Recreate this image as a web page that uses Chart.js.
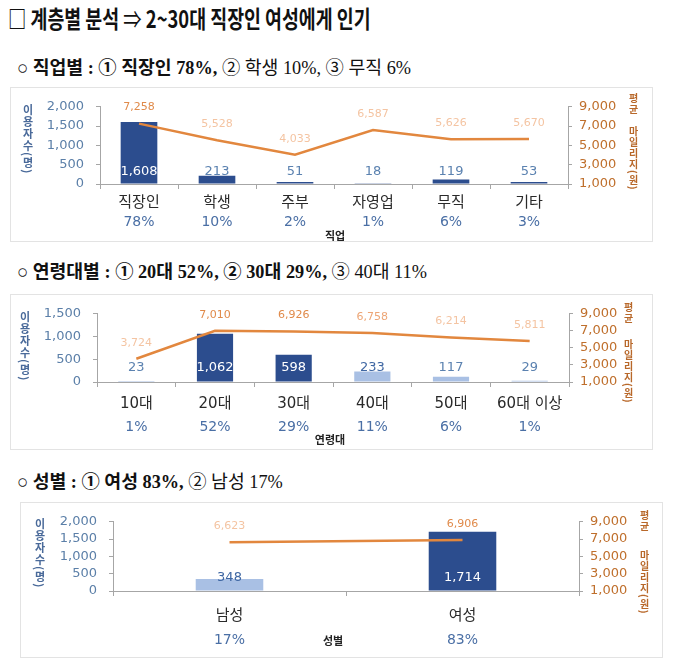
<!DOCTYPE html>
<html><head><meta charset="utf-8">
<script src="https://cdn.jsdelivr.net/npm/chart.js@4.4.1/dist/chart.umd.min.js"></script>
<style>
body{margin:0;background:#fff;width:680px;height:663px;position:relative;overflow:hidden;font-family:"Noto Sans CJK KR",sans-serif;}
.abs{position:absolute;}
.title{left:8px;top:1px;font-size:24px;font-weight:bold;transform:scaleX(0.765);transform-origin:left top;white-space:nowrap;color:#111;line-height:34px;}
.title .ar{font-weight:normal;}
.sub{left:17px;font-family:"Liberation Serif","Noto Sans CJK KR",serif;font-size:18.3px;line-height:24px;white-space:nowrap;color:#111;}
.sub b{font-weight:bold;}
.box{border:1px solid #e3e3e3;box-sizing:border-box;}
.vt{writing-mode:vertical-rl;font-weight:bold;line-height:1;white-space:nowrap;}
.lt{font-size:11px;color:#4a6a9a;letter-spacing:1px;}
.rt{font-size:10px;color:#b8682a;letter-spacing:1px;}
.xt{font-size:11px;font-weight:bold;color:#222;transform:translateX(-50%);white-space:nowrap;}
canvas{position:absolute;}
</style>
</head>
<body>
<div class="abs title">□ 계층별 분석 <span class="ar">⇒</span> 2~30대 직장인 여성에게 인기</div>

<div class="abs sub" style="top:56px;">○ <b>직업별 : ① 직장인 78%,</b> ② 학생 10%, ③ 무직 6%</div>
<div class="abs box" style="left:10px;top:87px;width:643px;height:155px;"></div>
<canvas id="c1" width="643" height="155" style="left:10px;top:87px;"></canvas>
<div class="abs vt lt" style="left:22px;top:104px;">이용자수(명)</div>
<div class="abs vt rt" style="left:628px;top:93px;">평균</div>
<div class="abs vt rt" style="left:628px;top:126px;">마일리지(원)</div>
<div class="abs xt" style="left:335px;top:227px;">직업</div>

<div class="abs sub" style="top:260px;">○ <b>연령대별 : ① 20대 52%, ② 30대 29%,</b> ③ 40대 11%</div>
<div class="abs box" style="left:10px;top:294px;width:643px;height:156px;"></div>
<canvas id="c2" width="643" height="156" style="left:10px;top:294px;"></canvas>
<div class="abs vt lt" style="left:19px;top:311px;">이용자수(명)</div>
<div class="abs vt rt" style="left:623px;top:302px;">평균</div>
<div class="abs vt rt" style="left:623px;top:339px;">마일리지(원)</div>
<div class="abs xt" style="left:330px;top:431px;">연령대</div>

<div class="abs sub" style="top:470px;">○ <b>성별 : ① 여성 83%,</b> ② 남성 17%</div>
<div class="abs box" style="left:20px;top:502px;width:643px;height:156px;"></div>
<canvas id="c3" width="643" height="156" style="left:20px;top:502px;"></canvas>
<div class="abs vt lt" style="left:34px;top:518px;">이용자수(명)</div>
<div class="abs vt rt" style="left:639px;top:510px;">평균</div>
<div class="abs vt rt" style="left:639px;top:550px;">마일리지(원)</div>
<div class="abs xt" style="left:333px;top:632px;">성별</div>

<script>
// ---- data ----
const jobCats = ['직장인','학생','주부','자영업','무직','기타'];
const jobPct = ['78%','10%','2%','1%','6%','3%'];
const jobUsers = [1608,213,51,18,119,53];
const jobMileage = [7258,5528,4033,6587,5626,5670];

const ageCats = ['10대','20대','30대','40대','50대','60대 이상'];
const agePct = ['1%','52%','29%','11%','6%','1%'];
const ageUsers = [23,1062,598,233,117,29];
const ageMileage = [3724,7010,6926,6758,6214,5811];

const sexCats = ['남성','여성'];
const sexPct = ['17%','83%'];
const sexUsers = [348,1714];
const sexMileage = [6623,6906];

const usersMax1 = 2000, usersMax2 = 1500, usersMax3 = 2000, usersStep = 500;
const mileageMin = 1000, mileageMax = 9000, mileageStep = 2000;

// ---- styles ----
const DARK = '#2c4d8e', LIGHT = '#a9c0e4', LINE = '#e2873e';
const LBL_DARK = '#e08a4a', LBL_MID = '#eda676', LBL_LIGHT = '#f4c4a2';

const labelPlugin = {
  id: 'labels',
  afterDatasetsDraw(chart) {
    const c = chart.options.plugins.labels;
    const ctx = chart.ctx;
    const bars = chart.getDatasetMeta(1).data;
    const pts = chart.getDatasetMeta(0).data;
    const xs = chart.scales.x;
    ctx.save();
    ctx.textAlign = 'center';
    ctx.textBaseline = 'middle';
    ctx.font = '13px "DejaVu Sans"';
    bars.forEach((b, i) => {
      const h = b.base - b.y;
      const dark = c.barColors[i] === DARK;
      let y = b.base - c.barK;
      let col = '#5b82b0';
      if (dark && h > 8) { col = '#ffffff'; if (b.y + 5 > y) y = b.y + 5; }
      else if (!dark && h > 8) col = '#3f67a3';
      ctx.fillStyle = col;
      ctx.fillText(c.users[i].toLocaleString('en-US'), b.x, y);
    });
    ctx.font = '11px "DejaVu Sans"';
    pts.forEach((p, i) => {
      ctx.fillStyle = c.lineColors[i];
      ctx.fillText(c.mileage[i].toLocaleString('en-US'), p.x, p.y - 16);
    });
    ctx.font = '14px "DejaVu Sans"';
    ctx.fillStyle = '#4a6fa5';
    c.pct.forEach((t, i) => {
      ctx.fillText(t, xs.getPixelForValue(i), chart.chartArea.bottom + c.pctOff);
    });
    ctx.restore();
  }
};

function makeChart(id, o) {
  const gridL = {display: true, drawOnChartArea: false, drawTicks: true, tickLength: 4, color: '#a6a6a6'};
  new Chart(document.getElementById(id), {
    data: {
      labels: o.cats,
      datasets: [
        {type: 'line', data: o.mileage, yAxisID: 'y2', borderColor: LINE, borderWidth: 2.5,
         pointRadius: 0, tension: 0, order: 0},
        {type: 'bar', data: o.users, yAxisID: 'y', backgroundColor: o.barColors,
         barPercentage: o.barPct, categoryPercentage: 1, order: 1}
      ]
    },
    options: {
      responsive: false, animation: false, locale: 'en-US',
      layout: {padding: {top: o.top, left: 0, right: 0, bottom: 0}},
      plugins: {legend: {display: false}, tooltip: {enabled: false},
        labels: {users: o.users, mileage: o.mileage, pct: o.pct, barColors: o.barColors,
                 lineColors: o.lineColors, barK: o.barK, pctOff: o.pctOff}},
      scales: {
        x: {offset: true,
            grid: {display: true, offset: true, drawOnChartArea: false, tickLength: 5, color: '#a6a6a6'},
            border: {color: '#a6a6a6'},
            ticks: {padding: o.catPad, color: '#2a2a2a', autoSkip: false, font: {family: '"DejaVu Sans","Noto Sans CJK KR"', size: 15}, maxRotation: 0},
            afterFit: s => { s.height = o.xh; }},
        y: {position: 'left', min: 0, max: o.uMax, grid: gridL, border: {color: '#a6a6a6'},
            ticks: {stepSize: usersStep, autoSkip: false, padding: 12, color: '#5b7fa8', font: {family: 'DejaVu Sans', size: 13}},
            afterFit: s => { s.width = o.lw; }},
        y2: {position: 'right', min: mileageMin, max: mileageMax, grid: gridL, border: {color: '#a6a6a6'},
            ticks: {stepSize: mileageStep, autoSkip: false, padding: 7, color: '#bf6f2c', font: {family: 'DejaVu Sans', size: 13}},
            afterFit: s => { s.width = o.rw; }}
      }
    },
    plugins: [labelPlugin]
  });
}

makeChart('c1', {cats: jobCats, pct: jobPct, users: jobUsers, mileage: jobMileage, uMax: usersMax1,
  barColors: [DARK, DARK, DARK, DARK, DARK, DARK],
  lineColors: [LBL_DARK, LBL_LIGHT, LBL_LIGHT, LBL_LIGHT, LBL_LIGHT, LBL_LIGHT],
  barPct: 0.47, top: 10, lw: 90, rw: 85, xh: 58, catPad: 5, barK: 12, pctOff: 38});

makeChart('c2', {cats: ageCats, pct: agePct, users: ageUsers, mileage: ageMileage, uMax: usersMax2,
  barColors: [LIGHT, DARK, DARK, LIGHT, LIGHT, LIGHT],
  lineColors: [LBL_LIGHT, LBL_DARK, LBL_DARK, LBL_MID, LBL_LIGHT, LBL_LIGHT],
  barPct: 0.46, top: 13, lw: 87, rw: 84, xh: 68, catPad: 8, barK: 14, pctOff: 45});

makeChart('c3', {cats: sexCats, pct: sexPct, users: sexUsers, mileage: sexMileage, uMax: usersMax3,
  barColors: [LIGHT, DARK],
  lineColors: [LBL_LIGHT, LBL_DARK],
  barPct: 0.29, top: 11, lw: 93, rw: 84, xh: 67, catPad: 11, barK: 13, pctOff: 49});
</script>
</body></html>
